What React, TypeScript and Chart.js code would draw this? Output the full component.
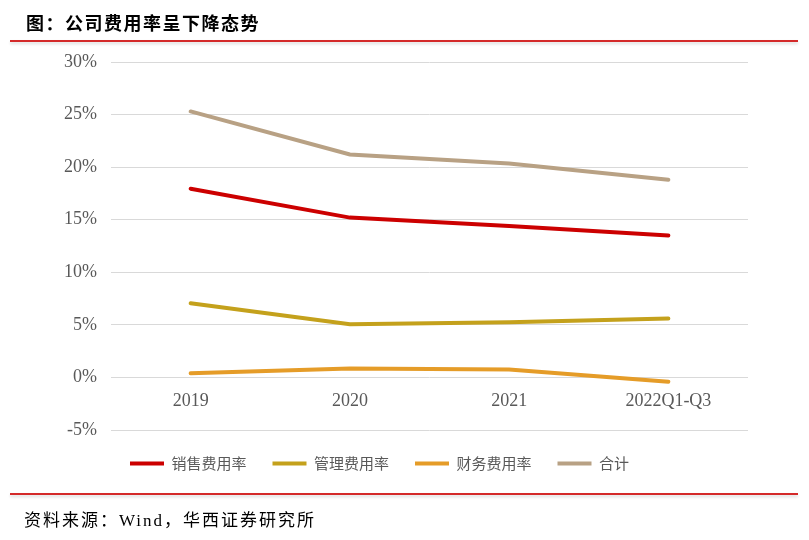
import React, { useEffect, useRef } from "react";
import { Chart, registerables } from "chart.js";

Chart.register(...registerables);

const categories = ["2019", "2020", "2021", "2022Q1-Q3"];
const seriesNames = ["销售费用率", "管理费用率", "财务费用率", "合计"];
const salesRate = [17.95, 15.2, 14.4, 13.5];
const adminRate = [7.05, 5.05, 5.25, 5.6];
const financeRate = [0.4, 0.85, 0.75, -0.4];
const totalRate = [25.3, 21.2, 20.35, 18.8];
const seriesColors = ["#CC0000", "#C4A11C", "#E59C28", "#B8A184"];
const yTicks = [-5, 0, 5, 10, 15, 20, 25, 30];

export default function App() {
  const ref = useRef<HTMLCanvasElement | null>(null);

  useEffect(() => {
    if (!ref.current) return;
    const values = [salesRate, adminRate, financeRate, totalRate];
    const chart = new Chart(ref.current, {
      type: "line",
      data: {
        labels: categories,
        datasets: values.map((v, i) => ({
          label: seriesNames[i],
          data: v,
          borderColor: seriesColors[i],
          backgroundColor: seriesColors[i],
          borderWidth: 4,
          pointRadius: 0,
          tension: 0,
          borderCapStyle: "round" as const,
        })),
      },
      options: {
        animation: false,
        responsive: false,
        maintainAspectRatio: false,
        layout: { padding: { left: 11, right: 61, top: 62, bottom: 59 } },
        plugins: {
          tooltip: { enabled: false },
          legend: {
            position: "bottom",
            labels: {
              boxWidth: 34,
              boxHeight: 4,
              padding: 26,
              color: "#595959",
              font: { family: "'Noto Sans CJK SC', sans-serif", size: 15 },
              generateLabels: (c: any) => {
                const base = Chart.defaults.plugins.legend.labels.generateLabels(c);
                return base.map((l: any) => ({ ...l, lineWidth: 0, fillStyle: l.strokeStyle }));
              },
            },
          },
        },
        scales: {
          x: {
            position: { y: 0 } as any,
            offset: true,
            grid: { display: false, drawTicks: false },
            border: { display: false },
            ticks: {
              padding: 13,
              color: "#595959",
              font: { family: "'Liberation Serif', serif", size: 18 },
              maxRotation: 0,
            },
          },
          y: {
            min: -5,
            max: 30,
            afterFit: (s: any) => { s.width = 100; },
            afterBuildTicks: (s: any) => { s.ticks = yTicks.map((v) => ({ value: v })); },
            grid: { color: "#D9D9D9", lineWidth: 1, drawTicks: false },
            border: { display: false },
            ticks: {
              padding: 14,
              color: "#595959",
              font: { family: "'Liberation Serif', serif", size: 18 },
              callback: (v: any) => `${v}%`,
            },
          },
        },
      },
    });
    return () => chart.destroy();
  }, []);

  const lineStyle: React.CSSProperties = {
    position: "absolute",
    left: 10,
    width: 788,
    height: 2,
    background: "#D42A2A",
    boxShadow: "0 2px 3px rgba(0,0,0,0.15)",
  };

  return (
    <div style={{ position: "absolute", left: 0, top: 0, width: 809, height: 540, background: "#fff" }}>
      <canvas ref={ref} width={809} height={540} style={{ position: "absolute", left: 0, top: 0, width: 809, height: 540 }} />
      <div
        style={{
          position: "absolute",
          left: 26,
          top: 10,
          fontFamily: "'Noto Sans CJK SC', sans-serif",
          fontWeight: 700,
          fontSize: 18,
          letterSpacing: 1.5,
          lineHeight: "24px",
          color: "#000",
          whiteSpace: "nowrap",
        }}
      >
        图：公司费用率呈下降态势
      </div>
      <div style={{ ...lineStyle, top: 40 }} />
      <div style={{ ...lineStyle, top: 493 }} />
      <div
        style={{
          position: "absolute",
          left: 24,
          top: 509,
          fontFamily: "'Liberation Serif', 'Noto Sans CJK SC', serif",
          fontSize: 17,
          letterSpacing: 2,
          lineHeight: "24px",
          color: "#000",
          whiteSpace: "nowrap",
        }}
      >
        资料来源：Wind，华西证券研究所
      </div>
    </div>
  );
}
